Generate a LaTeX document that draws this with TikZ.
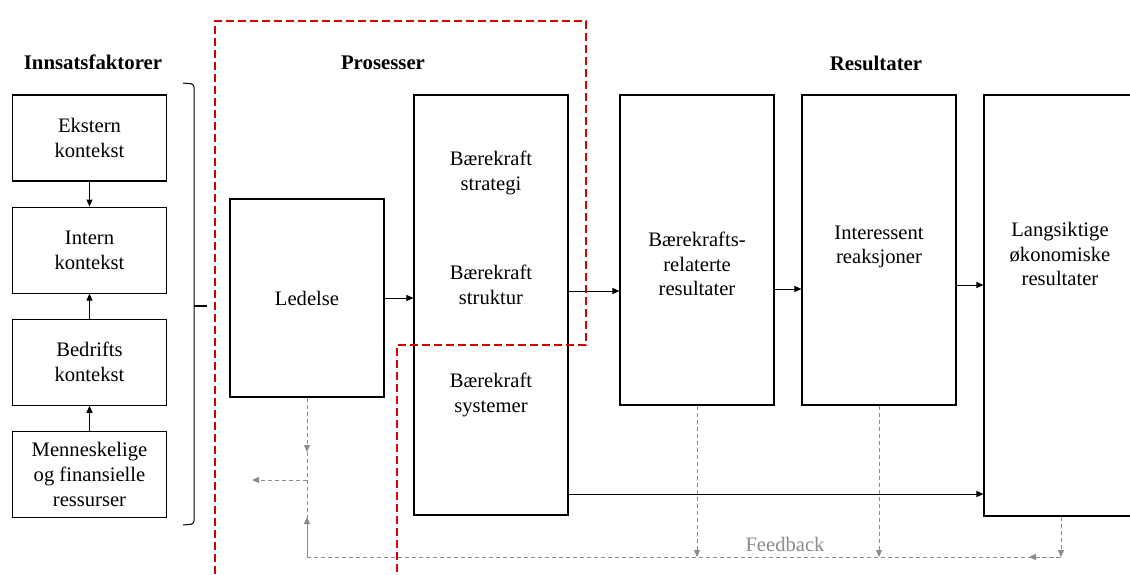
\documentclass[tikz,border=0pt]{standalone}
\usepackage{fontspec}
\setmainfont{Liberation Serif}
\usetikzlibrary{positioning}
\usetikzlibrary{arrows.meta}

\definecolor{ramme}{RGB}{214,0,0}
\definecolor{feedgraa}{RGB}{140,140,140}

\tikzset{
	boks/.style = {draw, line width=0.55pt, align=center, inner sep=0pt,
		minimum width=77pt, font=\fontsize{10.3}{12.4}\selectfont},
	tekst/.style = {align=center, inner sep=0pt, font=\fontsize{10.3}{12.4}\selectfont},
	tittel/.style = {font=\fontsize{10.4}{12}\selectfont\bfseries},
	pil/.style = {-{Triangle[length=3.5pt,width=3pt]}, line width=0.5pt},
	feedback/.style = {feedgraa, line width=0.5pt, dash pattern=on 2pt off 1.5pt},
	feedpil/.style = {feedback, -{Triangle[length=3.5pt,width=3pt]}},
	prosessramme/.style = {ramme, line width=1.2pt, dash pattern=on 4pt off 2pt}
}

\begin{document}
\begin{tikzpicture}[x=0.5pt, y=-0.5pt, node distance=12.5pt]
	\useasboundingbox (0,0) rectangle (1130,574);

	% innsatsfaktorer
	\node (innsats) [tittel] at (93,62) {Innsatsfaktorer};
	\node (ekstern) [boks, minimum height=43pt] at (89.5,138) {Ekstern\\kontekst};
	\node (intern) [boks, minimum height=43pt, below = of ekstern] {Intern\\kontekst};
	\node (bedrift) [boks, minimum height=43pt, below = of intern] {Bedrifts\\kontekst};
	\node (ressurs) [boks, minimum height=43pt, below = of bedrift] {Menneskelige\\og finansielle\\ressurser};
	\draw [pil] (ekstern) -- (intern);
	\draw [pil] (bedrift) -- (intern);
	\draw [pil] (ressurs) -- (bedrift);
	\draw [line width=0.5pt, rounded corners=1.5pt] (183,83) -- (194,84) -- (194,524) -- (183,525);
	\draw [line width=0.7pt] (194,306) -- (207,306);

	% prosesser
	\node (prosess) [tittel] at (383,63) {Prosesser};
	\node (ledelse) [boks, minimum height=99pt] at (307,298) {Ledelse};
	\node (baerekraft) [boks, minimum height=210pt] at (491,305) {};
	\node (strategi) [tekst] at (491,173) {Bærekraft\\strategi};
	\node (struktur) [tekst] at (491,285) {Bærekraft\\struktur};
	\node (systemer) [tekst] at (491,395) {Bærekraft\\systemer};
	\draw [pil] (ledelse.east) -- (ledelse.east -| baerekraft.west);

	% resultater
	\node (resultat) [tittel] at (876,63) {Resultater};
	\node (relatert) [boks, minimum height=155pt] at (697,250) {};
	\node (relatekst) [tekst] at (697,264) {Bærekrafts-\\relaterte\\resultater};
	\node (interessent) [boks, minimum height=155pt] at (879,250) {};
	\node (intekst) [tekst] at (879,247) {Interessent\\reaksjoner};
	\node (langsiktig) [boks, minimum height=210.5pt] at (1061,305.5) {};
	\node (langtekst) [tekst] at (1060,254) {Langsiktige\\økonomiske\\resultater};
	\draw [pil] (baerekraft.east |- 0,291) -- (relatert.west |- 0,291);
	\draw [pil] (relatert.east |- 0,289) -- (interessent.west |- 0,289);
	\draw [pil] (interessent.east |- 0,285) -- (langsiktig.west |- 0,285);
	\draw [pil] (baerekraft.east |- 0,494) -- (langsiktig.west |- 0,494);

	% feedback
	\coordinate (pilned) at (307,452);
	\coordinate (grein) at (307,480);
	\coordinate (ut) at (252,480);
	\coordinate (pilopp) at (307,517);
	\coordinate (fbvenstre) at (307,557);
	\coordinate (fbhoyre) at (1061,557);
	\draw [feedpil] (ledelse.south) -- (pilned);
	\draw [feedpil] (grein) -- (ut);
	\draw [feedback] (pilned) -- (fbvenstre) -- (fbhoyre);
	\draw [feedpil] (fbvenstre) -- (pilopp);
	\draw [feedpil] (relatert.south) -- (relatert.south |- fbvenstre);
	\draw [feedpil] (interessent.south) -- (interessent.south |- fbvenstre);
	\draw [feedpil] (langsiktig.south) -- (fbhoyre);
	\draw [feedpil] (fbhoyre) -- ++(-32,0);
	\node (fbtekst) [tekst, feedgraa] at (785,544) {Feedback};

	% ramme rundt prosessene
	\draw [prosessramme] (215,574) -- (215,21) -- (586,21) -- (586,345) -- (397,345) -- (397,574);
\end{tikzpicture}
\end{document}
